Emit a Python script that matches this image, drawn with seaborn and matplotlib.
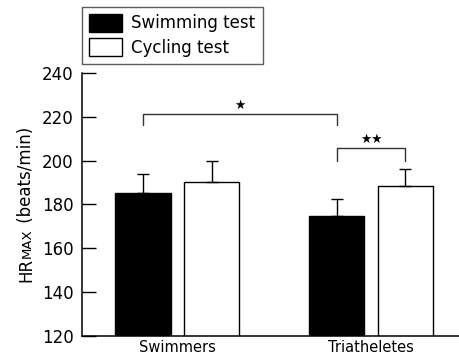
import numpy as np
import pandas as pd
import matplotlib
matplotlib.use("Agg")
import matplotlib.pyplot as plt
import seaborn as sns
from matplotlib.patches import Patch

# Data
groups = ["Swimmers", "Triatheletes"]
tests = ["Swimming test", "Cycling test"]
swim_test = [185, 174.5]
cycle_test = [190, 188.5]
swim_err = [9, 8]
cycle_err = [10, 7.5]

df = pd.DataFrame({
    "group": groups * 2,
    "test": [tests[0]] * 2 + [tests[1]] * 2,
    "hr": swim_test + cycle_test,
    "err": swim_err + cycle_err,
})

sns.set_theme(style="ticks")
plt.rcParams["font.family"] = ["DejaVu Sans"]
plt.rcParams["text.color"] = "black"
plt.rcParams["xtick.color"] = "black"
plt.rcParams["ytick.color"] = "black"
plt.rcParams["axes.edgecolor"] = "black"

fig = plt.figure(figsize=(4.6, 3.64), dpi=100)
ax = fig.add_axes([0.178, 0.077, 0.822, 0.723])

sns.barplot(data=df, x="group", y="hr", hue="test", hue_order=tests,
            palette=["black", "white"], width=0.712, gap=0.2,
            edgecolor="black", linewidth=1.0, errorbar=None, legend=False, ax=ax)

# upper-only error bars
for cont, errs in zip(ax.containers, [swim_err, cycle_err]):
    for bar, e in zip(cont, errs):
        xc = bar.get_x() + bar.get_width() / 2
        top = bar.get_height()
        ax.errorbar(xc, top, yerr=[[0], [e]], fmt="none", ecolor="black",
                    elinewidth=1.0, capsize=4.5, capthick=1.0)

ax.set_ylim(120, 240)
ax.set_yticks([120, 140, 160, 180, 200, 220, 240])
ax.set_xlim(-0.494, 1.46)
ax.tick_params(axis="y", direction="in", length=10, width=1, labelsize=12, pad=6,
               colors="black")
ax.tick_params(axis="x", length=0, labelsize=10.5, pad=3, colors="black")
ax.set_xlabel("")
ax.set_ylabel("")
sns.despine(ax=ax)
for s in ["left", "bottom"]:
    ax.spines[s].set_linewidth(1.1)
    ax.spines[s].set_color("black")

# significance brackets
xs = [b.get_x() + b.get_width() / 2 for b in ax.containers[0]]
xc = [b.get_x() + b.get_width() / 2 for b in ax.containers[1]]
ax.plot([xs[0], xs[0], xs[1], xs[1]], [216, 221.2, 221.2, 216], color="#333333", lw=1)
ax.text((xs[0] + xs[1]) / 2, 222.3, "★", ha="center", va="bottom", fontsize=9)
ax.plot([xs[1], xs[1], xc[1], xc[1]], [200, 205.8, 205.8, 200], color="#333333", lw=1)
ax.text((xs[1] + xc[1]) / 2, 206.8, "★★", ha="center", va="bottom", fontsize=9)

# legend
handles = [Patch(facecolor="black", edgecolor="black"),
           Patch(facecolor="white", edgecolor="black")]
leg = fig.legend(handles, tests, loc="upper left", bbox_to_anchor=(0.178, 0.981),
                 frameon=True, fancybox=False, fontsize=12, handlelength=2.0,
                 handleheight=1.25, handletextpad=0.55, borderpad=0.42,
                 labelspacing=0.35, borderaxespad=0)
leg.get_frame().set_edgecolor("#333333")
leg.get_frame().set_linewidth(1)

# y label with small caps "MAX"
fig.canvas.draw()
r = fig.canvas.get_renderer()
pieces = [("HR", 12), ("MAX", 9.5), (" (beats/min)", 12)]
total = 0
objs = []
for s, fs in pieces:
    t = fig.text(0, 0, s, fontsize=fs, rotation=90, rotation_mode="anchor",
                 ha="left", va="baseline")
    h = t.get_window_extent(r).height
    objs.append((t, h))
    total += h
y0 = (73 + 336) / 2 + total / 2  # pixels from top
y = 364 - y0
for t, h in objs:
    t.set_position((31 / 460, y / 364))
    y += h

fig.savefig("out.png", dpi=100)
